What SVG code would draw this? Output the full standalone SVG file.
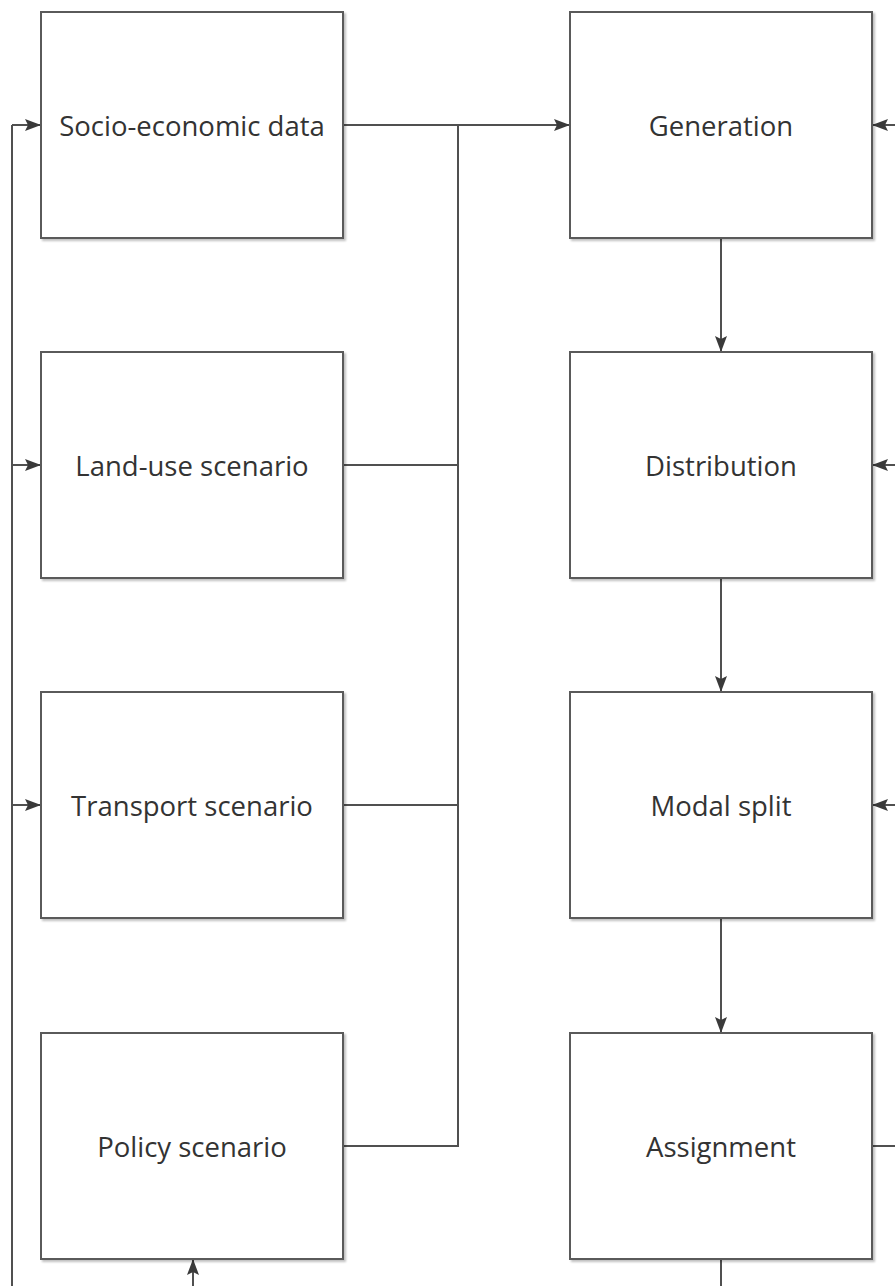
<svg xmlns="http://www.w3.org/2000/svg" width="895" height="1286" viewBox="0 0 895 1286">
<defs>
<marker id="ah" markerWidth="16" markerHeight="12" refX="16" refY="6" orient="auto" markerUnits="userSpaceOnUse">
<path d="M0,0 L16,6 L0,12 L3,6 Z" fill="#3a3a3a"/>
</marker>
<filter id="sh" x="-5%" y="-5%" width="110%" height="110%">
<feOffset dx="2" dy="2" in="SourceAlpha" result="o"/>
<feGaussianBlur in="o" stdDeviation="1.2" result="b"/>
<feComponentTransfer in="b" result="c"><feFuncA type="linear" slope="0.25"/></feComponentTransfer>
<feMerge><feMergeNode in="c"/><feMergeNode in="SourceGraphic"/></feMerge>
</filter>
</defs>
<style>
.box{fill:#fff;stroke:#5a5a5a;stroke-width:2;filter:url(#sh)}
.lbl{font-family:"Open Sans","Noto Sans",sans-serif;font-size:27.5px;fill:#333;text-anchor:middle;dominant-baseline:central}
.ln{fill:none;stroke:#505050;stroke-width:2}
.ar{fill:none;stroke:#505050;stroke-width:2;marker-end:url(#ah)}
</style>
<rect width="895" height="1286" fill="#fff"/>
<g id="connectors">
<path class="ln" d="M12,1286 V125"/>
<path class="ar" d="M12,125 H41"/>
<path class="ar" d="M12,465 H41"/>
<path class="ar" d="M12,805 H41"/>
<path class="ar" d="M193,1286 V1259"/>
<path class="ar" d="M343,125 H570"/>
<path class="ln" d="M343,465 H458"/>
<path class="ln" d="M343,805 H458"/>
<path class="ln" d="M343,1146 H458 V125"/>
<path class="ar" d="M721,238 V352"/>
<path class="ar" d="M721,578 V692"/>
<path class="ar" d="M721,918 V1033"/>
<path class="ln" d="M721,1259 V1286"/>
<path class="ar" d="M895,125 H872"/>
<path class="ar" d="M895,465 H872"/>
<path class="ar" d="M895,805 H872"/>
<path class="ln" d="M872,1146 H895"/>
</g>
<g id="socio"><rect class="box" x="41" y="12" width="302" height="226"/><text class="lbl" x="192" y="125">Socio-economic data</text></g>
<g id="landuse"><rect class="box" x="41" y="352" width="302" height="226"/><text class="lbl" x="192" y="465">Land-use scenario</text></g>
<g id="transport"><rect class="box" x="41" y="692" width="302" height="226"/><text class="lbl" x="192" y="805">Transport scenario</text></g>
<g id="policy"><rect class="box" x="41" y="1033" width="302" height="226"/><text class="lbl" x="192" y="1146">Policy scenario</text></g>
<g id="generation"><rect class="box" x="570" y="12" width="302" height="226"/><text class="lbl" x="721" y="125">Generation</text></g>
<g id="distribution"><rect class="box" x="570" y="352" width="302" height="226"/><text class="lbl" x="721" y="465">Distribution</text></g>
<g id="modal"><rect class="box" x="570" y="692" width="302" height="226"/><text class="lbl" x="721" y="805">Modal split</text></g>
<g id="assignment"><rect class="box" x="570" y="1033" width="302" height="226"/><text class="lbl" x="721" y="1146">Assignment</text></g>
</svg>
